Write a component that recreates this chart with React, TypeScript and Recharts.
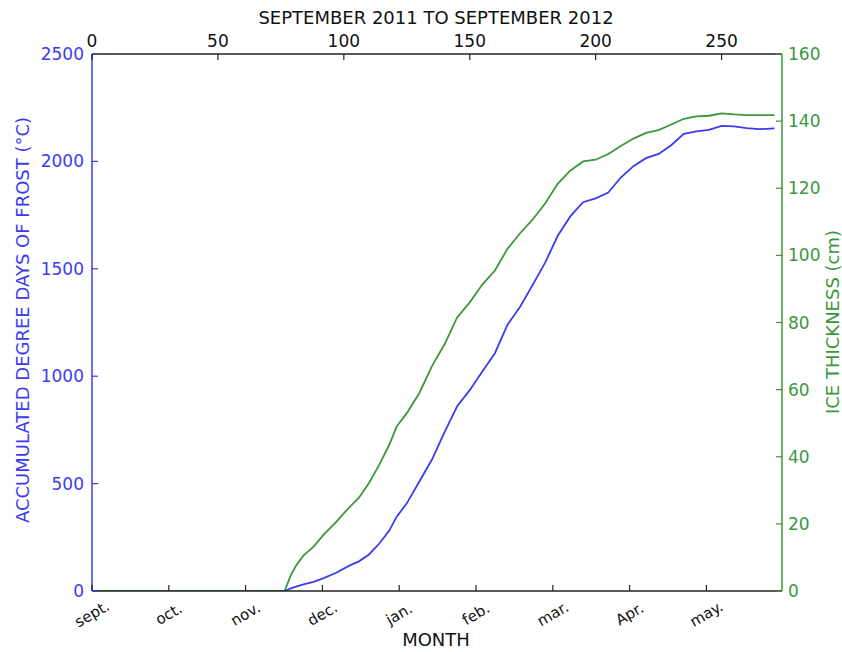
import React from "react";
import { LineChart, Line, XAxis, YAxis } from "recharts";

// days since 1 Sept 2011
const days = [
  0, 76.5, 79, 81, 84, 88, 92, 97, 102, 106, 110, 114, 118, 121, 125, 130, 135, 140, 145, 150,
  155, 160, 165, 170, 175, 180, 185, 190, 195, 200, 205, 210, 215, 220, 225, 230, 235, 240, 245,
  250, 255, 260, 265, 271,
];

const frostDegreeDays = [
  0, 0, 12, 20, 31, 43, 60, 85, 117, 138, 170, 220, 280, 346, 408, 510, 612, 740, 860, 935,
  1022, 1107, 1240, 1323, 1425, 1530, 1655, 1745, 1810, 1828, 1855, 1925, 1978, 2015, 2035, 2075,
  2128, 2140, 2147, 2165, 2163, 2155, 2150, 2154,
];

const iceThickness = [
  0, 0, 4.8, 7.5, 10.6, 13.2, 16.8, 20.6, 24.8, 27.8, 32.2, 37.5, 43.5, 49, 53, 59, 67, 73.5,
  81.5, 86, 91.3, 95.5, 102, 106.6, 110.7, 115.5, 121.4, 125.3, 128, 128.5, 130.2, 132.6, 134.8,
  136.5, 137.3, 139, 140.7, 141.4, 141.6, 142.3, 142, 141.8, 141.8, 141.8,
];

const monthLabels = ["sept.", "oct.", "nov.", "dec.", "jan.", "feb.", "mar.", "Apr.", "may."];
const monthTicks = [0, 30.5, 61, 91.5, 122, 152.5, 183, 213.5, 244];
const dayTicks = [0, 50, 100, 150, 200, 250];
const frostTicks = [0, 500, 1000, 1500, 2000, 2500];
const iceTicks = [0, 20, 40, 60, 80, 100, 120, 140, 160];

const data = days.map((day, i) => ({
  day,
  frost: frostDegreeDays[i],
  ice: iceThickness[i],
}));

const BLUE = "#3b3bf2";
const GREEN = "#3a983a";
const AXIS = "#222";
const FONT = "DejaVu Sans, sans-serif";

function TopTick({ x, y, payload }: any) {
  return (
    <g>
      <line x1={x} y1={y} x2={x} y2={y + 6} stroke={AXIS} strokeWidth={1.2} />
      <text x={x} y={y - 7} textAnchor="middle" fontSize={17} fill="#111" fontFamily={FONT}>
        {payload.value}
      </text>
    </g>
  );
}

function MonthTick({ x, y, payload }: any) {
  const label = monthLabels[monthTicks.indexOf(payload.value)];
  return (
    <g>
      <line x1={x} y1={y} x2={x} y2={y - 6} stroke={AXIS} strokeWidth={1.2} />
      <text
        x={x}
        y={y + 28}
        textAnchor="middle"
        fontSize={15}
        fill="#111"
        fontFamily={FONT}
        transform={`rotate(-30, ${x}, ${y + 23})`}
      >
        {label}
      </text>
    </g>
  );
}

function LeftTick({ x, y, payload }: any) {
  return (
    <g>
      <line x1={x} y1={y} x2={x + 6} y2={y} stroke={BLUE} strokeWidth={1.2} />
      <text x={x - 8} y={y + 6} textAnchor="end" fontSize={17} fill={BLUE} fontFamily={FONT}>
        {payload.value}
      </text>
    </g>
  );
}

function RightTick({ x, y, payload }: any) {
  return (
    <g>
      <line x1={x} y1={y} x2={x - 6} y2={y} stroke={GREEN} strokeWidth={1.2} />
      <text x={x + 6} y={y + 6} textAnchor="start" fontSize={17} fill={GREEN} fontFamily={FONT}>
        {payload.value}
      </text>
    </g>
  );
}

export default function App() {
  return (
    <div
      style={{ position: "absolute", left: 0, top: 0, width: 842, height: 652, background: "#fff" }}
    >
      <LineChart width={842} height={652} data={data} margin={{ top: 0, right: 0, bottom: 0, left: 0 }}>
        <XAxis
          xAxisId="top"
          orientation="top"
          dataKey="day"
          type="number"
          domain={[0, 274]}
          ticks={dayTicks}
          interval={0}
          height={54}
          tickSize={0}
          tickMargin={0}
          tickLine={false}
          axisLine={{ stroke: AXIS, strokeWidth: 1.5 }}
          tick={<TopTick />}
          allowDataOverflow
          label={() => (
            <text x={436} y={24} textAnchor="middle" fontSize={18} fill="#111" fontFamily={FONT}>
              SEPTEMBER 2011 TO SEPTEMBER 2012
            </text>
          )}
        />
        <XAxis
          xAxisId="bottom"
          orientation="bottom"
          dataKey="day"
          type="number"
          domain={[0, 274]}
          ticks={monthTicks}
          interval={0}
          height={61}
          tickSize={0}
          tickMargin={0}
          tickLine={false}
          axisLine={{ stroke: AXIS, strokeWidth: 1.5 }}
          tick={<MonthTick />}
          allowDataOverflow
          label={() => (
            <text x={436} y={646} textAnchor="middle" fontSize={18} fill="#111" fontFamily={FONT}>
              MONTH
            </text>
          )}
        />
        <YAxis
          yAxisId="left"
          orientation="left"
          type="number"
          domain={[0, 2500]}
          ticks={frostTicks}
          interval={0}
          width={92}
          tickSize={0}
          tickMargin={0}
          tickLine={false}
          axisLine={{ stroke: BLUE, strokeWidth: 1.5 }}
          tick={<LeftTick />}
          allowDataOverflow
          label={() => (
            <text
              x={29}
              y={320}
              textAnchor="middle"
              fontSize={18}
              fill={BLUE}
              fontFamily={FONT}
              transform="rotate(-90, 29, 320)"
            >
              ACCUMULATED DEGREE DAYS OF FROST (°C)
            </text>
          )}
        />
        <YAxis
          yAxisId="right"
          orientation="right"
          type="number"
          domain={[0, 160]}
          ticks={iceTicks}
          interval={0}
          width={60}
          tickSize={0}
          tickMargin={0}
          tickLine={false}
          axisLine={{ stroke: GREEN, strokeWidth: 1.5 }}
          tick={<RightTick />}
          allowDataOverflow
          label={() => (
            <text
              x={839}
              y={322}
              textAnchor="middle"
              fontSize={18}
              fill={GREEN}
              fontFamily={FONT}
              transform="rotate(-90, 839, 322)"
            >
              ICE THICKNESS (cm)
            </text>
          )}
        />
        <Line
          xAxisId="bottom"
          yAxisId="left"
          dataKey="frost"
          type="linear"
          stroke={BLUE}
          strokeWidth={1.8}
          dot={false}
          isAnimationActive={false}
        />
        <Line
          xAxisId="top"
          yAxisId="right"
          dataKey="ice"
          type="linear"
          stroke={GREEN}
          strokeWidth={1.8}
          dot={false}
          isAnimationActive={false}
        />
      </LineChart>
    </div>
  );
}
